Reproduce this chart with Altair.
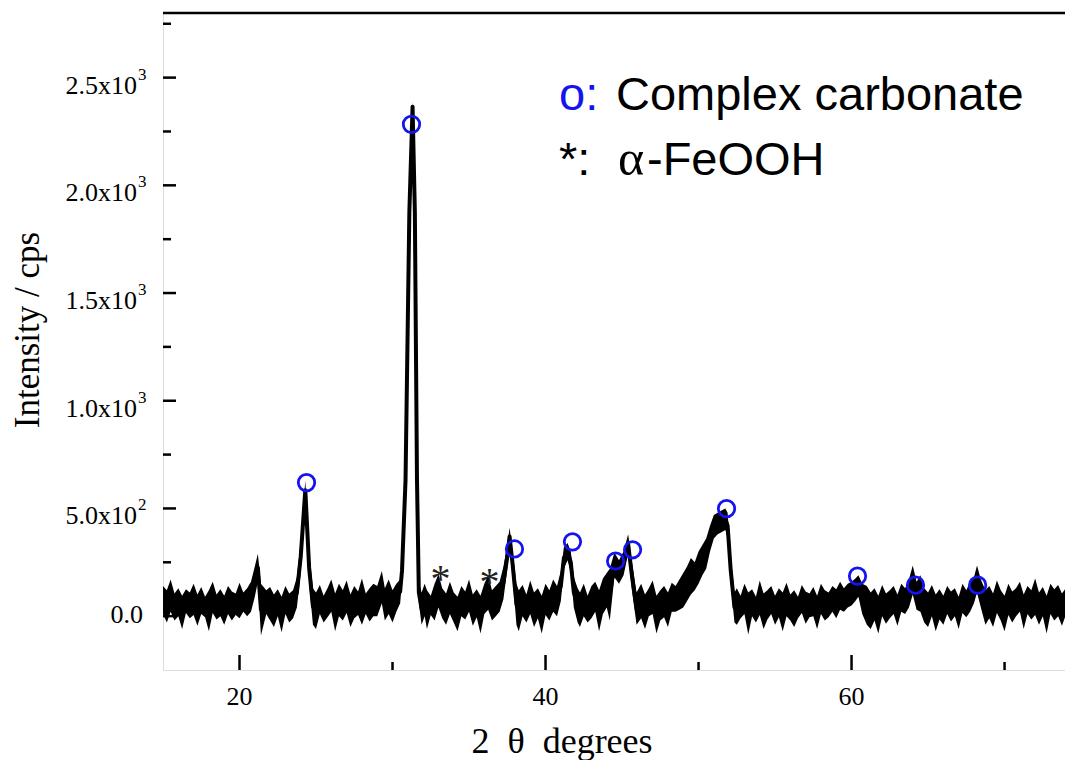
import altair as alt
import pandas as pd

# ---------------- data ----------------
two_theta = [
    15.0, 15.25, 15.5, 15.75, 16.0, 16.25, 16.5, 16.75, 17.0, 17.25, 17.5, 17.75,
    18.0, 18.25, 18.5, 18.75, 19.0, 19.25, 19.5, 19.75, 20.0, 20.25, 20.5,
    20.75, 21.0, 21.2, 21.4, 21.75,
    22.0, 22.25, 22.5, 22.75, 23.0, 23.25, 23.5,
    23.75, 24.0, 24.3, 24.55, 24.8,
    25.0, 25.25, 25.5, 25.75, 26.0, 26.25, 26.5, 26.75, 27.0, 27.25, 27.5, 27.75,
    28.0, 28.25, 28.5, 28.75,
    29.0, 29.3, 29.5, 29.75, 30.0, 30.25,
    30.5, 30.62, 30.85, 31.1, 31.31, 31.46, 31.6, 31.72, 31.9, 32.1,
    32.25, 32.5, 32.75, 33.0, 33.25, 33.5, 33.75, 34.0, 34.25, 34.5, 34.75, 35.0,
    35.25, 35.5, 35.75, 36.0, 36.25, 36.5, 36.75, 37.0,
    37.25, 37.5, 37.65, 37.85, 38.1,
    38.25, 38.5, 38.75, 39.0, 39.25, 39.5, 39.75, 40.0, 40.25, 40.5, 40.75,
    41.0, 41.2, 41.44, 41.65, 41.85, 42.1,
    42.25, 42.5, 42.75, 43.0, 43.25, 43.5, 43.75,
    44.0, 44.2, 44.5, 44.8, 45.1, 45.4, 45.65, 45.95,
    46.25, 46.5, 46.75, 47.0, 47.25, 47.5, 47.75, 48.0, 48.25,
    48.5, 48.75, 49.0, 49.25, 49.5, 49.75, 50.0, 50.25, 50.5, 50.75, 51.0, 51.25,
    51.5, 51.75, 51.9, 52.1, 52.35,
    52.5, 52.75, 53.0, 53.25, 53.5, 53.75, 54.0, 54.25, 54.5, 54.75,
    55.0, 55.25, 55.5, 55.75, 56.0, 56.25, 56.5, 56.75, 57.0, 57.25,
    57.5, 57.75, 58.0, 58.25, 58.5, 58.75, 59.0, 59.25, 59.5, 59.75,
    60.0, 60.25, 60.45, 60.7, 61.0,
    61.25, 61.5, 61.75, 62.0, 62.25, 62.5, 62.75, 63.0, 63.25, 63.5,
    63.75, 64.0, 64.25, 64.5, 64.75,
    65.0, 65.25, 65.5, 65.75, 66.0, 66.25, 66.5, 66.75, 67.0, 67.25, 67.5, 67.75,
    68.0, 68.2, 68.45, 68.75,
    69.0, 69.25, 69.5, 69.75, 70.0, 70.25, 70.5, 70.75, 71.0, 71.25, 71.5, 71.75,
    72.0, 72.25, 72.5, 72.75, 73.0, 73.25, 73.5, 73.75, 74.0,
]

# upper edge of the noisy trace (cps)
upper = [
    140, 120, 170, 105, 130, 95, 125, 110, 150, 100, 135, 90,
    120, 160, 100, 125, 95, 140, 115, 105, 155, 110, 130,
    160, 230, 290, 150, 120,
    135, 100, 125, 90, 140, 105, 120,
    180, 350, 630, 300, 130,
    110, 145, 95, 130, 170, 105, 150, 120, 165, 100, 140, 115,
    175, 105, 130, 150,
    140, 210, 130, 170, 120, 150,
    170, 260, 660, 1900, 2390, 1900, 660, 160, 110, 150,
    120, 95, 150, 195, 130, 105, 160, 110, 90, 140, 115, 170,
    100, 125, 95, 150, 190, 120, 140, 160,
    230, 330, 410, 300, 150,
    120, 145, 100, 165, 110, 130, 95, 150, 120, 170, 140,
    210, 320, 340, 300, 180, 130,
    110, 150, 95, 140, 160, 120, 175,
    200, 220, 295, 260, 300, 380, 250, 110,
    150, 100, 130, 165, 95, 120, 140, 110, 155,
    140, 170, 200, 230, 270, 250, 300, 330, 360, 420, 470, 480,
    490, 500, 480, 280, 110,
    130, 95, 150, 110, 125, 90, 165, 105, 120, 140,
    95, 130, 110, 155, 100, 120, 90, 145, 115, 105,
    135, 95, 150, 120, 110, 140, 125, 160, 130, 150,
    160, 175, 190, 150, 140,
    110, 130, 95, 145, 105, 120, 140, 100, 150, 130,
    170, 235, 160, 190, 130,
    110, 145, 100, 125, 95, 140, 115, 130, 90, 150, 120, 160,
    180, 235, 170, 120,
    140, 105, 165, 120, 95, 150, 115, 130, 160, 100, 140, 120,
    175, 110, 135, 95, 150, 125, 145, 105, 130,
]

# lower edge of the noisy trace (cps)
lower = [
    10, -30, 20, -20, 0, -60, 15, -10, 5, -45, 10, -5,
    -70, 15, -15, 0, -40, 10, -20, 5, -10, 20, 0,
    20, 90, 160, -90, 10,
    -20, -50, 0, -75, 10, -30, -10,
    40, 200, 540, 150, -40,
    -60, 10, -30, -5, 20, -70, 0, -20, 15, -50, -10, 5,
    -40, 10, -25, 0,
    0, 60, -20, 10, -30, 20,
    60, 160, 600, 1850, 2340, 1850, 600, 60, -40, 0,
    -60, 5, -20, 40, -10, -40, 10, -30, -70, 0, -15, 20,
    -45, -5, -80, 10, 30, -20, 0, 20,
    80, 220, 330, 180, -40,
    -70, 0, -30, 10, -50, -10, -80, 5, -20, 20, 0,
    70, 220, 260, 200, 40, -30,
    -50, 0, -30, -10, 20, -70, 10,
    40, -20, 180, 150, 190, 290, 120, -40,
    -10, -60, 0, 10, -80, -20, -5, -50, 20,
    20, 30, 40, 70, 100, 120, 150, 190, 220, 300, 360, 380,
    390, 400, 360, 150, -30,
    -40, -10, 10, -85, 0, -30, 5, -60, -15, 10,
    -40, -5, -70, 0, -20, -50, -10, 15, -35, -5,
    0, -60, 10, -20, -5, 20, -10, 30, 20, 40,
    50, 70, 90, 10, -40,
    -60, -20, -80, 0, -35, -10, 10, -45, 20, 10,
    40, 100, 30, 20, -30,
    -50, 0, -70, -15, -40, 10, -25, 0, -60, 15, -5, 20,
    60, 110, 40, -40,
    -10, -50, 15, -20, -70, 5, -30, 0, 20, -60, 10, -15,
    5, -40, 0, -80, 10, -20, 0, -45, 5,
]

# peak markers
carbonate_2theta = [24.38, 31.24, 37.97, 41.76, 44.58, 45.69, 51.83, 60.39, 64.18, 68.24]
carbonate_cps = [620, 2283, 312, 345, 256, 308, 499, 186, 144, 144]
goethite_2theta = [33.14, 36.34]
goethite_cps = [186, 172]

# axis ticks and labels
y_major_ticks = [0, 500, 1000, 1500, 2000, 2500]
y_minor_ticks = [250, 750, 1250, 1750, 2250, 2750]
x_major_ticks = [20, 40, 60]
x_minor_ticks = [30, 50, 70]
x_labels = ["20", "40", "60"]
y_label_values = [500, 1000, 1500, 2000, 2500]
y_mantissa = ["5.0x10", "1.0x10", "1.5x10", "2.0x10", "2.5x10"]
y_exponent = ["2", "3", "3", "3", "3"]
zero_label = "0.0"

# ---------------- chart ----------------
W, H = 902, 657
SERIF = "Liberation Serif"
SANS = "Liberation Sans"
BLUE = "#1414ee"

xs = alt.Scale(domain=[15, 73.95], nice=False, zero=False)
ys = alt.Scale(domain=[-250, 2800], nice=False, zero=False)

trace = pd.DataFrame({"x": two_theta, "up": upper, "lo": lower})
one = pd.DataFrame({"k": [0]})

band = alt.Chart(trace).mark_area(color="black", clip=True).encode(
    x=alt.X("x:Q", scale=xs, axis=alt.Axis(
        values=x_major_ticks, ticks=False, labels=False, grid=False, title=None,
        domain=True, domainColor="black", domainWidth=2.5,
    )),
    y=alt.Y("up:Q", scale=ys, axis=alt.Axis(
        labels=False, ticks=False, grid=False, title=None,
        domain=True, domainColor="black", domainWidth=2.5,
    )),
    y2="lo:Q",
)

mid = alt.Chart(trace).transform_calculate(
    mid="(datum.up + datum.lo) / 2"
).mark_line(color="black", strokeWidth=4, strokeJoin="round", clip=True).encode(
    x=alt.X("x:Q", scale=xs, axis=None),
    y=alt.Y("mid:Q", scale=ys, axis=None),
)

top_border = alt.Chart(one).mark_rule(color="black", strokeWidth=2.5).encode(
    x=alt.value(0), x2=alt.value(W), y=alt.value(0)
)

def yticks(vals, length):
    return alt.Chart(pd.DataFrame({"v": vals})).mark_rule(color="black", strokeWidth=2.5).encode(
        y=alt.Y("v:Q", scale=ys, axis=None), x=alt.value(0), x2=alt.value(length)
    )

def xticks(vals, length):
    return alt.Chart(pd.DataFrame({"v": vals})).mark_rule(color="black", strokeWidth=2.5).encode(
        x=alt.X("v:Q", scale=xs, axis=None), y=alt.value(H), y2=alt.value(H - length)
    )

xlab = alt.Chart(pd.DataFrame({"v": x_major_ticks, "t": x_labels})).mark_text(
    font=SERIF, fontSize=26, color="black", align="center", baseline="alphabetic"
).encode(x=alt.X("v:Q", scale=xs, axis=None), y=alt.value(H + 35), text="t:N")

ylab_df = pd.DataFrame({"v": y_label_values, "m": y_mantissa, "e": y_exponent})

ylab_main = alt.Chart(ylab_df).mark_text(
    font=SERIF, fontSize=26, color="black", align="right", baseline="alphabetic", dy=16
).encode(y=alt.Y("v:Q", scale=ys, axis=None), x=alt.value(-26), text="m:N")

ylab_exp = alt.Chart(ylab_df).mark_text(
    font=SERIF, fontSize=17, color="black", align="left", baseline="alphabetic", dy=2
).encode(y=alt.Y("v:Q", scale=ys, axis=None), x=alt.value(-25), text="e:N")

ylab_zero = alt.Chart(pd.DataFrame({"v": [0], "t": [zero_label]})).mark_text(
    font=SERIF, fontSize=26, color="black", align="right", baseline="alphabetic", dy=7
).encode(y=alt.Y("v:Q", scale=ys, axis=None), x=alt.value(-20), text="t:N")

markers = alt.Chart(pd.DataFrame({"x": carbonate_2theta, "y": carbonate_cps})).mark_point(
    shape="circle", filled=False, color=BLUE, size=270, strokeWidth=2.8, opacity=1
).encode(x=alt.X("x:Q", scale=xs, axis=None), y=alt.Y("y:Q", scale=ys, axis=None))

stars = alt.Chart(pd.DataFrame({"x": goethite_2theta, "y": goethite_cps})).mark_text(
    text="*", font=SERIF, fontSize=40, color="#222222", baseline="alphabetic", dy=16
).encode(x=alt.X("x:Q", scale=xs, axis=None), y=alt.Y("y:Q", scale=ys, axis=None))

def label(text, x, y, font=SANS, size=47, color="black", **kw):
    return alt.Chart(one).mark_text(
        text=text, font=font, fontSize=size, color=color, align="left", baseline="alphabetic", **kw
    ).encode(x=alt.value(x), y=alt.value(y))

legend = [
    label("o:", 396, 97, color=BLUE),
    label("Complex carbonate", 453, 97),
    label("*:", 396, 162),
    label("\u03b1", 455, 162, font=SERIF, size=50),
    label("-FeOOH", 484, 162),
]

x_title = alt.Chart(one).mark_text(
    text="2\u00a0\u00a0\u03b8\u00a0\u00a0degrees", font=SERIF, fontSize=36, color="black",
    align="center", baseline="alphabetic"
).encode(x=alt.value(399), y=alt.value(740))

y_title = alt.Chart(one).mark_text(
    text="Intensity / cps", font=SERIF, fontSize=35, color="black",
    align="center", baseline="middle", angle=270
).encode(x=alt.value(-135), y=alt.value(317))

chart = alt.layer(
    band, mid,
    yticks(y_major_ticks, 13), yticks(y_minor_ticks, 8),
    xticks(x_major_ticks, 15), xticks(x_minor_ticks, 8),
    top_border,
    markers, stars,
    xlab, ylab_main, ylab_exp, ylab_zero,
    *legend, x_title, y_title,
).properties(
    width=W, height=H,
    autosize=alt.AutoSizeParams(type="none"),
    padding={"left": 155, "top": 5, "right": 0, "bottom": 90},
).configure_view(stroke=None).configure(background="white")

chart.save("out.html", embed_options={"renderer": "svg", "actions": False})
